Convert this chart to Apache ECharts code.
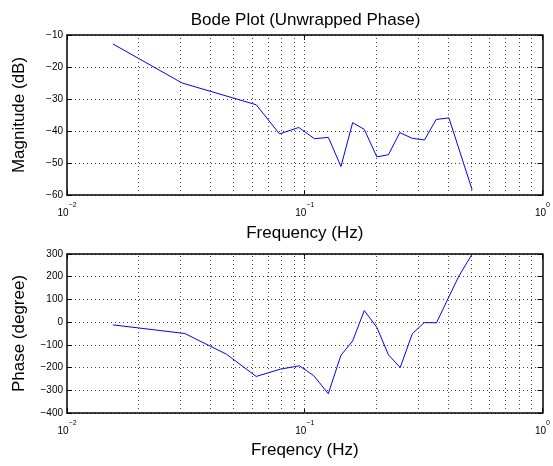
<!DOCTYPE html>
<html><head><meta charset="utf-8">
<script src="https://cdn.jsdelivr.net/npm/echarts@6/dist/echarts.min.js"></script>
<style>html,body{margin:0;padding:0;background:#fff}#c{width:553px;height:466px}</style>
</head><body><div id="c"></div>
<script>
// ---- data ----
const titleText = 'Bode Plot (Unwrapped Phase)';
const magFreq = [0.0156, 0.0305, 0.0625, 0.0783, 0.0944, 0.1098, 0.1257, 0.142, 0.159, 0.178, 0.201, 0.225, 0.251, 0.2835, 0.319, 0.357, 0.404, 0.506];
const magDb   = [-12.8, -25.0, -31.8, -40.9, -38.9, -42.4, -42.0, -51.1, -37.4, -39.5, -48.1, -47.4, -40.5, -42.3, -42.8, -36.4, -35.9, -58.4];
const phaseFreq = [0.0156, 0.0313, 0.0468, 0.0625, 0.079, 0.0949, 0.109, 0.1256, 0.142, 0.159, 0.178, 0.201, 0.225, 0.252, 0.2835, 0.318, 0.358, 0.445, 0.505];
const phaseDeg  = [-12, -50, -141, -239, -207, -192, -235, -315, -146, -83, 51, -23, -144, -200, -51, -2, -3, 203, 298];
const freqRange = [0.01, 1];
const gridFreqs = [0.02,0.03,0.04,0.05,0.06,0.07,0.08,0.09,0.1,0.2,0.3,0.4,0.5,0.6,0.7,0.8,0.9];
const magRange = [-60, -10], magStep = 10;
const phaseRange = [-400, 300], phaseStep = 100;
const magLabel = 'Magnitude (dB)', phaseLabel = 'Phase (degree)';
const freqLabelTop = 'Frequency (Hz)', freqLabelBottom = 'Freqency (Hz)';

// ---- chart ----
const FONT = 'Liberation Sans, Arial, Helvetica, sans-serif';
const chart = echarts.init(document.getElementById('c'), null, {renderer: 'canvas'});
const dotStyle = {color: '#444', type: [1, 3], width: 1};
const grids = [
  {left: 67, top: 35, width: 477, height: 160},
  {left: 67, top: 254, width: 477, height: 159}
];
function expLabel(v) {
  const e = Math.round(Math.log10(v));
  return '{b|10}{s|' + (e < 0 ? '\u2212' + (-e) : e) + '}';
}
const boxLine = {show: true, onZero: false, lineStyle: {color: '#000', width: 1.5}};
function xAxisBottom(gi, name, gap) {
  return {
    type: 'log', logBase: 10, gridIndex: gi, min: freqRange[0], max: freqRange[1], position: 'bottom',
    name: name, nameLocation: 'middle', nameGap: gap,
    nameTextStyle: {fontFamily: FONT, fontSize: 17, color: '#000'},
    axisLine: boxLine,
    axisTick: {show: true, inside: true, length: 5, lineStyle: {color: '#000'}},
    axisLabel: {show: true, margin: 7, formatter: expLabel, color: '#000',
      rich: {b: {fontFamily: FONT, fontSize: 10, color: '#000', verticalAlign: 'bottom', padding: [6,0,0,0]},
             s: {fontFamily: FONT, fontSize: 7, color: '#000', verticalAlign: 'top', padding: [0,0,6,0]}}},
    splitLine: {show: false}
  };
}
function xAxisTop(gi) {
  return {
    type: 'log', logBase: 10, gridIndex: gi, min: freqRange[0], max: freqRange[1], position: 'top',
    axisLine: boxLine,
    axisTick: {show: true, inside: true, length: 5, lineStyle: {color: '#000'}},
    axisLabel: {show: false}, splitLine: {show: false}
  };
}
function yAxis(gi, range, step, name, pos) {
  const left = pos === 'left';
  return {
    type: 'value', gridIndex: gi, min: range[0], max: range[1], interval: step, position: pos,
    name: left ? name : '', nameLocation: 'middle', nameGap: 39,
    nameTextStyle: {fontFamily: FONT, fontSize: 17, color: '#000'},
    axisLine: boxLine,
    axisTick: {show: true, inside: true, length: 5, lineStyle: {color: '#000'}},
    axisLabel: {show: left, margin: 4, fontFamily: FONT, fontSize: 10, color: '#000',
      formatter: v => String(v).replace('-', '\u2212')},
    splitLine: {show: left, lineStyle: dotStyle}
  };
}
const gridLineData = gridFreqs.map(f => ({xAxis: f}));
function gridSeries(i) {
  return {
    type: 'line', xAxisIndex: i, yAxisIndex: i, data: [], silent: true, z: 1,
    markLine: {silent: true, symbol: ['none', 'none'], label: {show: false}, animation: false,
      lineStyle: dotStyle, data: gridLineData}
  };
}
chart.setOption({
  animation: false,
  backgroundColor: '#fff',
  graphic: [{type: 'text', x: 305.5, y: 20, style: {text: titleText, fontFamily: FONT, fontSize: 17, fill: '#000', textAlign: 'center', textVerticalAlign: 'middle'}}],
  grid: grids,
  xAxis: [xAxisBottom(0, freqLabelTop, 30), xAxisBottom(1, freqLabelBottom, 29), xAxisTop(0), xAxisTop(1)],
  yAxis: [yAxis(0, magRange, magStep, magLabel, 'left'), yAxis(1, phaseRange, phaseStep, phaseLabel, 'left'),
          yAxis(0, magRange, magStep, '', 'right'), yAxis(1, phaseRange, phaseStep, '', 'right')],
  series: [
    gridSeries(0), gridSeries(1),
    {type: 'line', xAxisIndex: 0, yAxisIndex: 0, z: 3, showSymbol: false, symbol: 'none',
     lineStyle: {color: '#0000ff', width: 1}, itemStyle: {color: '#0000ff'},
     data: magFreq.map((f, i) => [f, magDb[i]])},
    {type: 'line', xAxisIndex: 1, yAxisIndex: 1, z: 3, showSymbol: false, symbol: 'none',
     lineStyle: {color: '#0000ff', width: 1}, itemStyle: {color: '#0000ff'},
     data: phaseFreq.map((f, i) => [f, phaseDeg[i]])}
  ]
});
</script></body></html>
